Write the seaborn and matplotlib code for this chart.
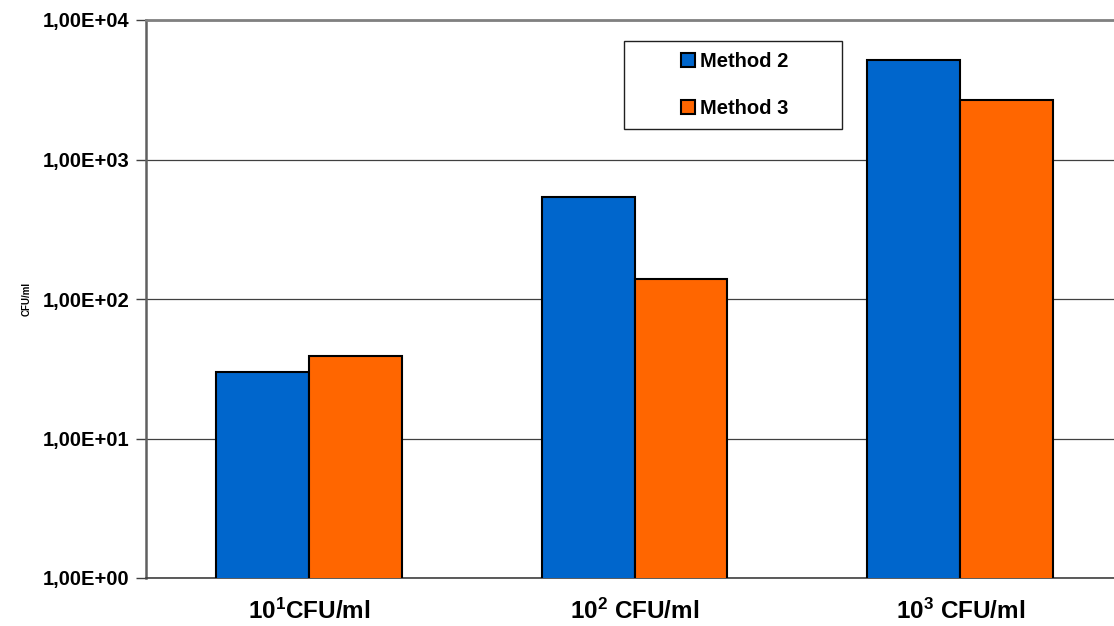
import matplotlib
matplotlib.use("Agg")
import matplotlib.pyplot as plt
import seaborn as sns
import pandas as pd
from matplotlib.ticker import FixedLocator, FuncFormatter, NullLocator
from matplotlib.patches import Rectangle, Patch

categories = ["10^1", "10^2", "10^3"]
tick_labels = [r"$\mathbf{10^{1}}$CFU/ml", r"$\mathbf{10^{2}}$ CFU/ml", r"$\mathbf{10^{3}}$ CFU/ml"]
method2 = [30, 538, 5165]
method3 = [39, 139, 2670]
series_names = ["Method 2", "Method 3"]
colors = ["#0066CC", "#FF6600"]

df = pd.DataFrame({
    "cat": categories * 2,
    "val": method2 + method3,
    "method": [series_names[0]] * 3 + [series_names[1]] * 3,
})

sns.set_style("white")
plt.rcParams["font.family"] = ["Liberation Sans", "DejaVu Sans"]
plt.rcParams["mathtext.fontset"] = "custom"
plt.rcParams["mathtext.bf"] = "Liberation Sans:bold"
plt.rcParams["mathtext.rm"] = "Liberation Sans:bold"
plt.rcParams["text.color"] = "black"
plt.rcParams["axes.labelcolor"] = "black"
plt.rcParams["xtick.color"] = "black"
plt.rcParams["ytick.color"] = "black"

fig = plt.figure(figsize=(11.14, 6.26), dpi=100)
ax = fig.add_axes([146 / 1114, 1 - 578 / 626, 977 / 1114, 558 / 626])

sns.barplot(data=df, x="cat", y="val", hue="method", palette=colors,
            width=0.57, saturation=1, edgecolor="black", linewidth=1.5,
            ax=ax, legend=False, zorder=3)

ax.set_yscale("log")
ax.set_ylim(1, 1e4)
ax.set_xlim(-0.5, 2.5)

ax.yaxis.set_major_locator(FixedLocator([1, 10, 100, 1000, 10000]))
ax.yaxis.set_minor_locator(NullLocator())
ax.yaxis.set_major_formatter(FuncFormatter(lambda v, p: f"{v:.2E}".replace(".", ",")))
ax.grid(axis="y", color="#404040", linewidth=0.9, zorder=0)
ax.set_axisbelow(True)

ax.set_xticks([0, 1, 2])
ax.set_xticklabels(tick_labels, fontsize=17.5, fontweight="bold", color="black")
ax.set_xticks([0.5, 1.5], minor=True)
ax.tick_params(axis="x", which="major", length=0, pad=15)
ax.tick_params(axis="x", which="minor", length=6, width=1, color="#404040", direction="out")
ax.tick_params(axis="y", which="major", length=7, width=1, color="#404040", direction="out",
               left=True, labelsize=14.5, pad=5, labelcolor="black")
for lab in ax.get_yticklabels():
    lab.set_fontweight("bold")

ax.set_xlabel("")
ax.set_ylabel("CFU/ml", fontsize=7, fontweight="bold", labelpad=8, color="black")

for side in ["left", "bottom", "top", "right"]:
    ax.spines[side].set_visible(True)
ax.spines["left"].set_color("#606060")
ax.spines["left"].set_linewidth(1.8)
ax.spines["bottom"].set_color("#404040")
ax.spines["bottom"].set_linewidth(1.2)
ax.spines["top"].set_color("#808080")
ax.spines["top"].set_linewidth(2)
ax.spines["right"].set_visible(False)

# legend
handles = [Patch(facecolor=c, edgecolor="black", linewidth=1.5) for c in colors]
x0 = (624 - 146) / 977
x1 = (842 - 146) / 977
y1 = (578 - 41) / 558
y0 = (578 - 129) / 558
ax.add_patch(Rectangle((x0, y0), x1 - x0, y1 - y0, transform=ax.transAxes,
                       facecolor="white", edgecolor="#202020", linewidth=1, zorder=5))
leg = ax.legend(handles, series_names, loc="center",
                bbox_to_anchor=((x0 + x1) / 2 + 0.002, (y0 + y1) / 2),
                frameon=False, prop={"weight": "bold", "size": 14.5},
                handlelength=0.7, handleheight=0.7, handletextpad=0.25,
                labelspacing=1.4)
for t in leg.get_texts():
    t.set_color("black")
leg.set_zorder(6)

fig.savefig("out.png", dpi=100)
